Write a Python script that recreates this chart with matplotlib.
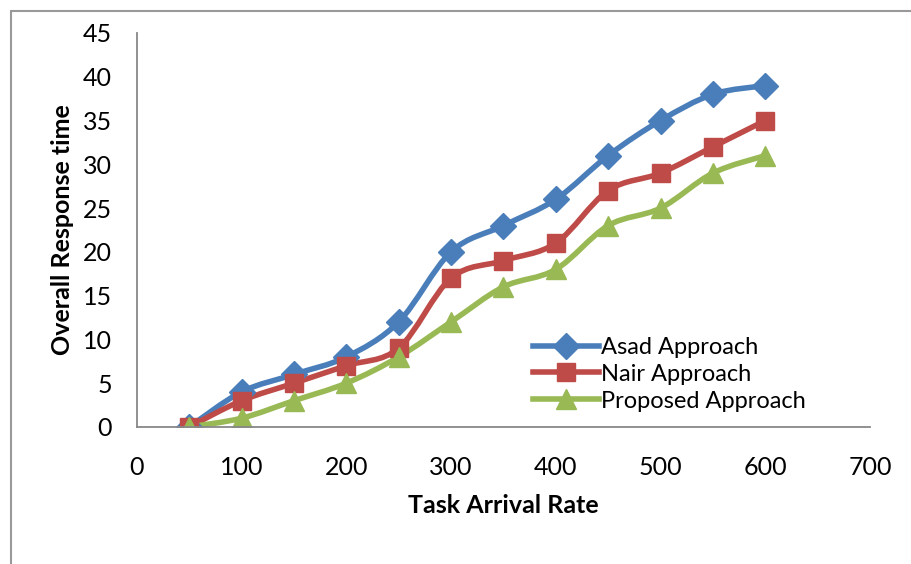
import numpy as np
import matplotlib
matplotlib.use('Agg')
import matplotlib.pyplot as plt
from matplotlib.path import Path
from matplotlib.patches import PathPatch, Rectangle
from matplotlib.lines import Line2D

plt.rcParams['font.family'] = ['Lato', 'DejaVu Sans']

# data
rate = [50, 100, 150, 200, 250, 300, 350, 400, 450, 500, 550, 600]
asad = [0, 4, 6, 8, 12, 20, 23, 26, 31, 35, 38, 39]
nair = [0, 3, 5, 7, 9, 17, 19, 21, 27, 29, 32, 35]
proposed = [0, 1, 3, 5, 8, 12, 16, 18, 23, 25, 29, 31]

names = ['Asad Approach', 'Nair Approach', 'Proposed Approach']
colors = ['#4A7EBB', '#BE4B48', '#98B954']
markers = ['D', 's', '^']
msizes = [13, 13, 14]


def smooth_path(x, y, t=1 / 6):
    # Excel-style smoothed line as cubic bezier segments
    x = np.asarray(x, float)
    y = np.asarray(y, float)
    n = len(x)
    verts = [(x[0], y[0])]
    codes = [Path.MOVETO]
    for i in range(n - 1):
        p0 = (x[i - 1], y[i - 1]) if i > 0 else (x[i], y[i])
        p1 = (x[i], y[i])
        p2 = (x[i + 1], y[i + 1])
        p3 = (x[i + 2], y[i + 2]) if i + 2 < n else p2
        c1 = (p1[0] + (p2[0] - p0[0]) * t, p1[1] + (p2[1] - p0[1]) * t)
        c2 = (p2[0] - (p3[0] - p1[0]) * t, p2[1] - (p3[1] - p1[1]) * t)
        verts += [c1, c2, p2]
        codes += [Path.CURVE4] * 3
    return Path(verts, codes)


fig = plt.figure(figsize=(9.12, 5.64), dpi=100)
ax = fig.add_axes([0.150, 0.243, 0.804, 0.6985])

for vals, c, m, ms, lab in zip([asad, nair, proposed], colors, markers, msizes, names):
    ax.add_patch(PathPatch(smooth_path(rate, vals), facecolor='none',
                           edgecolor=c, lw=4, capstyle='round', joinstyle='round'))
    ax.plot(rate, vals, linestyle='none', marker=m, markersize=ms,
            color=c, markeredgecolor=c)

ax.set_xlim(0, 700)
ax.set_ylim(0, 45)
ax.set_xticks(range(0, 701, 100))
ax.set_yticks(range(0, 46, 5))
ax.tick_params(length=0, labelsize=18)
ax.tick_params(axis='y', pad=18)
ax.tick_params(axis='x', pad=21)
for s in ['top', 'right']:
    ax.spines[s].set_visible(False)
for s in ['left', 'bottom']:
    ax.spines[s].set_color('#888888')
    ax.spines[s].set_linewidth(1.3)

ax.set_xlabel('Task Arrival Rate', fontsize=18, fontweight='bold', labelpad=11)
ax.set_ylabel('Overall Response time', fontsize=18, fontweight='bold', labelpad=6)

handles = [Line2D([], [], color=c, lw=4, marker=m, markersize=ms)
           for c, m, ms in zip(colors, markers, msizes)]
ax.legend(handles, names, loc='lower left', bbox_to_anchor=(0.527, 0.015),
          frameon=False, fontsize=17, handlelength=2.8, handletextpad=0.1,
          labelspacing=0.25, borderaxespad=0)

# outer chart frame (cut off at right/bottom)
fig.patches.append(Rectangle((11 / 912, -0.1), 1.2, 1 - 11 / 564 + 0.1,
                             transform=fig.transFigure, fill=False,
                             edgecolor='#999999', lw=1.5))

fig.savefig('out.png', dpi=100)
